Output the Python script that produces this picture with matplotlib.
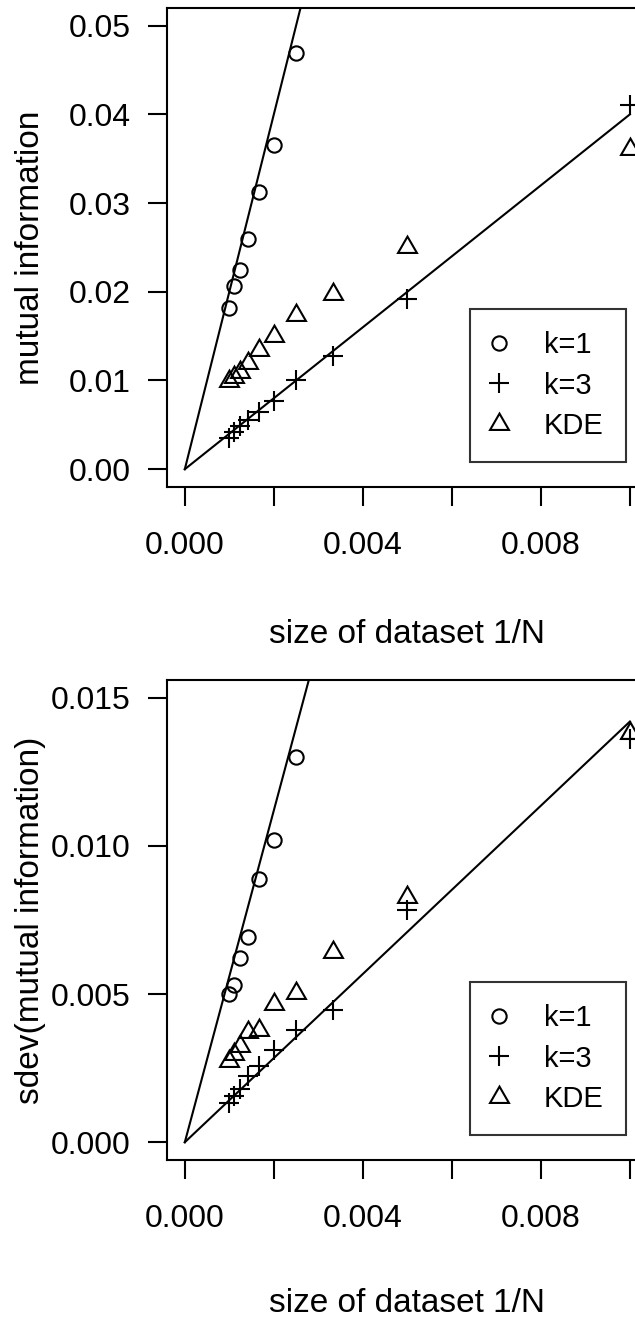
import numpy as np
import matplotlib
matplotlib.use("Agg")
import matplotlib.pyplot as plt

plt.rcParams['font.family'] = ['Liberation Sans', 'DejaVu Sans']

# dataset sizes; x axis shows 1/N
dataset_size = np.array([1000, 900, 800, 700, 600, 500, 400, 300, 200, 100])
# k=1 points only visible for the larger datasets (rest are above the plot)
dataset_size_k1 = np.array([1000, 900, 800, 700, 600, 500, 400])

# mutual information estimates
mi_k1 = [0.0182, 0.0207, 0.0225, 0.0260, 0.0313, 0.0365, 0.0469]
mi_k3 = [0.0035, 0.0042, 0.0049, 0.0056, 0.0064, 0.0077, 0.0100, 0.0128, 0.0192, 0.0410]
mi_kde = [0.0099, 0.0104, 0.0110, 0.0120, 0.0134, 0.0150, 0.0174, 0.0197, 0.0251, 0.0361]

# standard deviation of the estimates
sd_k1 = [0.00501, 0.00532, 0.00622, 0.00694, 0.00889, 0.01020, 0.01301]
sd_k3 = [0.00133, 0.00155, 0.00180, 0.00223, 0.00256, 0.00312, 0.00380, 0.00445, 0.00784, 0.01360]
sd_kde = [0.00273, 0.00299, 0.00324, 0.00371, 0.00380, 0.00468, 0.00504, 0.00642, 0.00829, 0.01380]

# straight lines through the origin
fit_x = [0.0, 0.01]
mi_fit_k1 = [0.0, 0.200]
mi_fit_k3 = [0.0, 0.0400]
sd_fit_k1 = [0.0, 0.056]
sd_fit_k3 = [0.0, 0.0142]

x_all = 1.0 / dataset_size
x_k1 = 1.0 / dataset_size_k1

LW = 1.5


def panel(ax, y1, y3, ykde, fit1, fit3, ymax, yticks, yfmt, ylabel, xlab_y):
    ax.plot(fit_x, fit1, color='black', lw=LW)
    ax.plot(fit_x, fit3, color='black', lw=LW)
    ax.plot(x_k1, y1, ls='none', marker='o', ms=10.3, mfc='none', mec='black', mew=LW, label='k=1')
    ax.plot(x_all, y3, ls='none', marker='+', ms=14.5, mew=LW, color='black', label='k=3')
    ax.plot(x_all, ykde, ls='none', marker=(3, 0, 0), ms=15.7, mfc='none', mec='black', mew=LW, label='KDE')

    ax.set_xlim(-0.0004, 0.0104)
    ax.set_ylim(-0.04 * ymax, 1.04 * ymax)
    ax.set_xticks([0.0, 0.002, 0.004, 0.006, 0.008, 0.010])
    ax.set_xticklabels(['0.000', '', '0.004', '', '0.008', ''])
    ax.set_yticks(yticks)
    ax.set_yticklabels([yfmt % v for v in yticks])
    ax.tick_params(axis='x', direction='out', length=14, width=LW, labelsize=23, pad=18)
    ax.tick_params(axis='y', direction='out', length=14, width=LW, labelsize=23, pad=12)
    for s in ax.spines.values():
        s.set_linewidth(LW)

    ax.set_xlabel('size of dataset 1/N', fontsize=24)
    ax.set_ylabel(ylabel, fontsize=24)
    ax.xaxis.label.set_va('center')
    ax.yaxis.label.set_va('center')
    ax.xaxis.set_label_coords(0.5, xlab_y)
    ax.yaxis.set_label_coords(-0.285, 0.5)

    leg = ax.legend(loc='lower right', bbox_to_anchor=(0.955, 0.052), fontsize=21,
                    frameon=True, fancybox=False, edgecolor='black', borderaxespad=0,
                    borderpad=0.76, handlelength=0.5, handletextpad=1.29, labelspacing=0.42,
                    numpoints=1)
    leg.get_frame().set_linewidth(LW)


fig = plt.figure(figsize=(6.35, 13.2), dpi=100)
ax1 = fig.add_axes([0.263, 0.6311, 0.757, 0.3629])
ax2 = fig.add_axes([0.263, 0.1212, 0.757, 0.3636])

panel(ax1, mi_k1, mi_k3, mi_kde, mi_fit_k1, mi_fit_k3, 0.05,
      [0.0, 0.01, 0.02, 0.03, 0.04, 0.05], '%.2f', 'mutual information', -0.309)
panel(ax2, sd_k1, sd_k3, sd_kde, sd_fit_k1, sd_fit_k3, 0.015,
      [0.0, 0.005, 0.010, 0.015], '%.3f', 'sdev(mutual information)', -0.298)

fig.savefig('out.png', dpi=100)
